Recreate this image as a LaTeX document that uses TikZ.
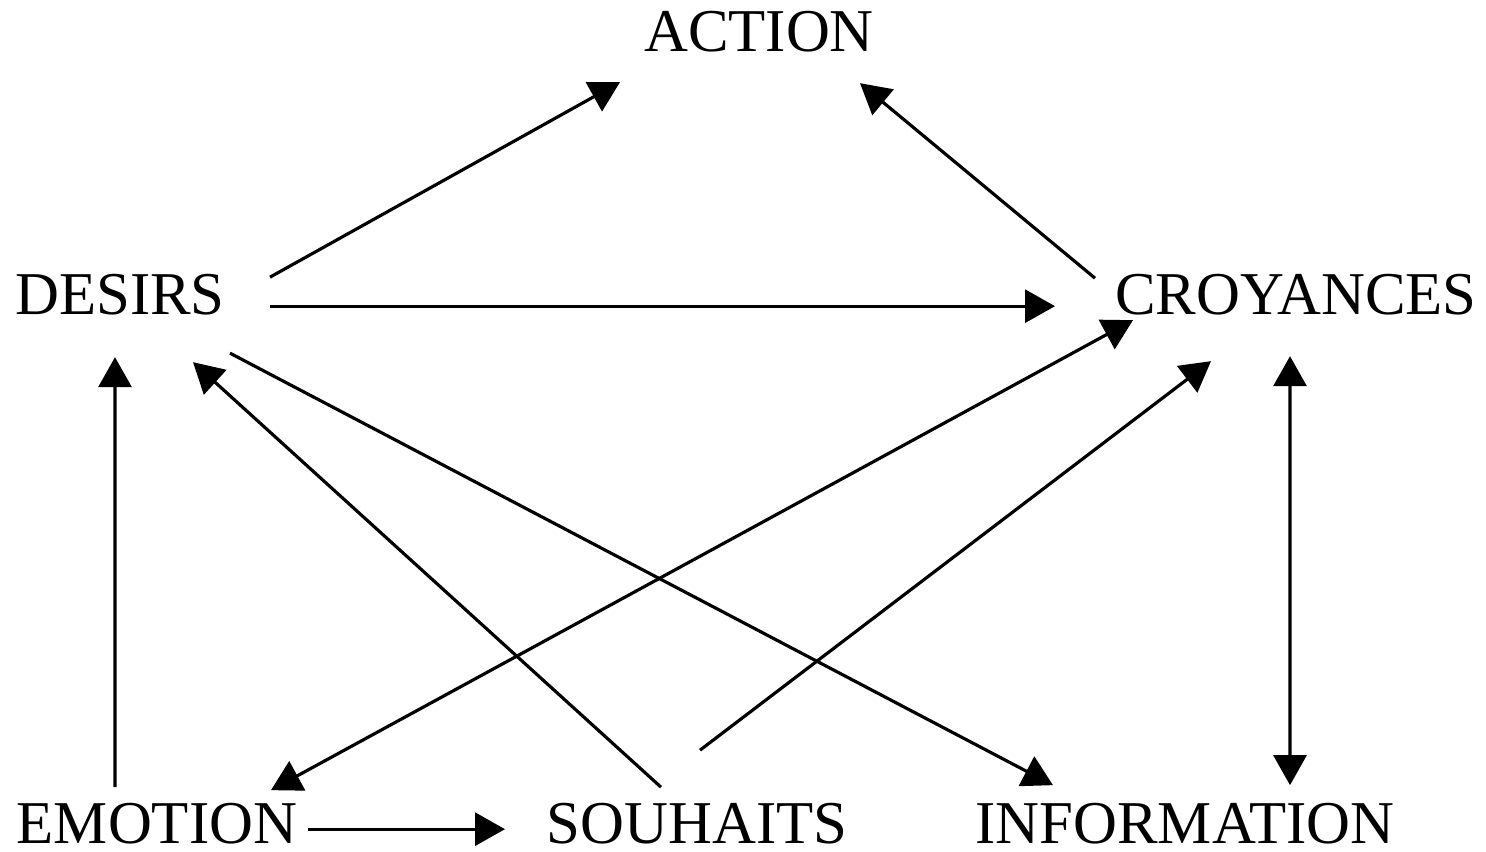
\documentclass[tikz,border=0pt]{standalone}
\usepackage{fontspec}
\setmainfont{Liberation Serif}
\usetikzlibrary{arrows.meta}

\begin{document}
\begin{tikzpicture}[
    label/.style={inner sep=0pt, anchor=base, font=\fontsize{17.3}{20}\selectfont},
    link/.style={line width=0.9pt, -{Triangle[length=3mm,width=3.3mm]}},
    bothlink/.style={line width=0.9pt, {Triangle[length=3mm,width=3.3mm]}-{Triangle[length=3mm,width=3.3mm]}}
  ]
      \useasboundingbox (0,0) rectangle (14.86,8.51);
      % the six states
      \node[label] (action) at (7.59,7.99) {ACTION};
      \node[label] (desirs) at (1.20,5.36) {DESIRS};
      \node[label] (croyances) at (12.96,5.36) {CROYANCES};
      \node[label] (emotion) at (1.57,0.08) {EMOTION};
      \node[label] (souhaits) at (6.97,0.08) {SOUHAITS};
      \node[label] (information) at (11.85,0.08) {INFORMATION};
      % links
      \draw[link] ([shift={(1.50,0.18)}]desirs.center) -- ([shift={(-1.39,-0.50)}]action.center);
      \draw[link] ([shift={(-2.01,0.17)}]croyances.center) -- ([shift={(1.01,-0.51)}]action.center);
      \draw[link] ([shift={(1.50,-0.11)}]desirs.center) -- ([shift={(-2.41,-0.11)}]croyances.center);
      \draw[bothlink] ([shift={(1.14,0.33)}]emotion.center) -- ([shift={(-1.63,-0.25)}]croyances.center);
      \draw[link] ([shift={(-0.36,0.36)}]souhaits.center) -- ([shift={(0.73,-0.67)}]desirs.center);
      \draw[link] ([shift={(1.10,-0.58)}]desirs.center) -- ([shift={(-1.32,0.38)}]information.center);
      \draw[link] ([shift={(0.03,0.73)}]souhaits.center) -- ([shift={(-0.85,-0.66)}]croyances.center);
      \draw[bothlink] ([shift={(-0.06,-0.61)}]croyances.center) -- ([shift={(1.05,0.38)}]information.center);
      \draw[link] ([shift={(-0.42,0.36)}]emotion.center) -- ([shift={(-0.05,-0.62)}]desirs.center);
      \draw[link] ([shift={(1.51,-0.06)}]emotion.center) -- ([shift={(-1.92,-0.06)}]souhaits.center);
\end{tikzpicture}
\end{document}
